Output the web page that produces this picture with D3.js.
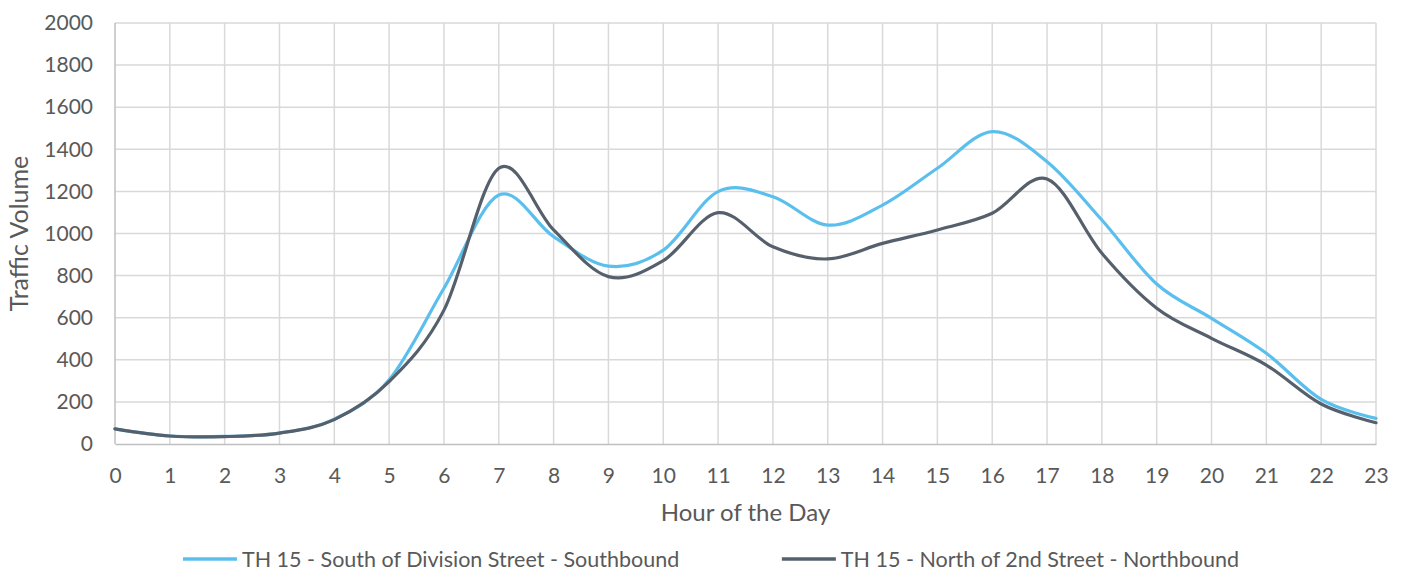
<!DOCTYPE html>
<html>
<head>
<meta charset="utf-8">
<script src="https://cdn.jsdelivr.net/npm/d3@7"></script>
<style>
  html, body { margin: 0; padding: 0; background: #fff; }
  svg text { font-family: Lato, "Open Sans", sans-serif; fill: #595959; }
</style>
</head>
<body>
<svg id="chart" width="1402" height="570"></svg>
<script>
// Hourly traffic volumes on TH 15
const hours = d3.range(0, 24);
const southbound = [72, 38, 36, 52, 118, 305, 740, 1183, 985, 845, 921, 1199, 1175, 1040, 1135, 1310, 1484, 1341, 1064, 760, 597, 431, 212, 122];
const northbound = [72, 38, 35, 52, 116, 296, 636, 1310, 1017, 795, 871, 1099, 937, 879, 953, 1017, 1096, 1259, 906, 645, 502, 375, 190, 101];
const seriesNames = [
  "TH 15 - South of Division Street - Southbound",
  "TH 15 - North of 2nd Street - Northbound"
];
const seriesColors = ["#5bbfee", "#56606c"];
const yTicks = [0, 200, 400, 600, 800, 1000, 1200, 1400, 1600, 1800, 2000];

const svg = d3.select("#chart");
const margin = { left: 115, right: 1376, top: 23, bottom: 444 };

const x = d3.scaleLinear().domain([0, 23]).range([margin.left, margin.right]);
const y = d3.scaleLinear().domain([0, 2000]).range([margin.bottom, margin.top]);

// Gridlines
const grid = svg.append("g");
grid.selectAll("line.h").data(yTicks.slice(1)).join("line")
  .attr("x1", margin.left).attr("x2", margin.right)
  .attr("y1", d => y(d)).attr("y2", d => y(d))
  .attr("stroke", "#d9d9d9").attr("stroke-width", 1.5);
grid.selectAll("line.v").data(hours).join("line")
  .attr("y1", margin.top).attr("y2", margin.bottom)
  .attr("x1", d => x(d)).attr("x2", d => x(d))
  .attr("stroke", d => d === 0 ? "#bfbfbf" : "#d9d9d9").attr("stroke-width", 1.5);

// Axes
const xAxis = svg.append("g").attr("transform", `translate(0,${margin.bottom})`)
  .call(d3.axisBottom(x).tickValues(hours).tickSize(0).tickPadding(24).tickFormat(d3.format("d")));
xAxis.select(".domain").attr("stroke", "#bfbfbf").attr("stroke-width", 1.5);
xAxis.selectAll("text").style("font-size", "21px").attr("fill", "#595959");

const yAxis = svg.append("g").attr("transform", `translate(${margin.left},0)`)
  .call(d3.axisLeft(y).tickValues(yTicks).tickSize(0).tickPadding(22).tickFormat(d3.format("d")));
yAxis.select(".domain").remove();
yAxis.selectAll("text").style("font-size", "21px").attr("fill", "#595959");

// Axis titles
svg.append("text").attr("x", (margin.left + margin.right) / 2).attr("y", 521)
  .attr("text-anchor", "middle").style("font-size", "24px").text("Hour of the Day");
svg.append("text").attr("transform", `translate(28,${(margin.top + margin.bottom) / 2}) rotate(-90)`)
  .attr("text-anchor", "middle").style("font-size", "25px").text("Traffic Volume");

// Smoothed series lines
const line = d3.line().x((d, i) => x(hours[i])).y(d => y(d)).curve(d3.curveCatmullRom.alpha(0));
[southbound, northbound].forEach((vals, i) => {
  svg.append("path").datum(vals).attr("d", line)
    .attr("fill", "none").attr("stroke", seriesColors[i]).attr("stroke-width", 3.2)
    .attr("stroke-linejoin", "round").attr("stroke-linecap", "round");
});

// Legend: first entry from the left, second entry ending at the right edge of the legend band
const legendLeft = 183, legendRight = 1239;
const items = seriesNames.map((name, i) => {
  const g = svg.append("g");
  g.append("line").attr("x1", 0).attr("x2", 54).attr("y1", 0).attr("y2", 0)
    .attr("stroke", seriesColors[i]).attr("stroke-width", 3.4);
  const t = g.append("text").attr("x", 59).attr("y", 7.5).style("font-size", "21.5px").text(name);
  return { g, w: 59 + t.node().getComputedTextLength() };
});
items[0].g.attr("transform", `translate(${legendLeft},559)`);
items[1].g.attr("transform", `translate(${legendRight - items[1].w},559)`);
</script>
</body>
</html>
